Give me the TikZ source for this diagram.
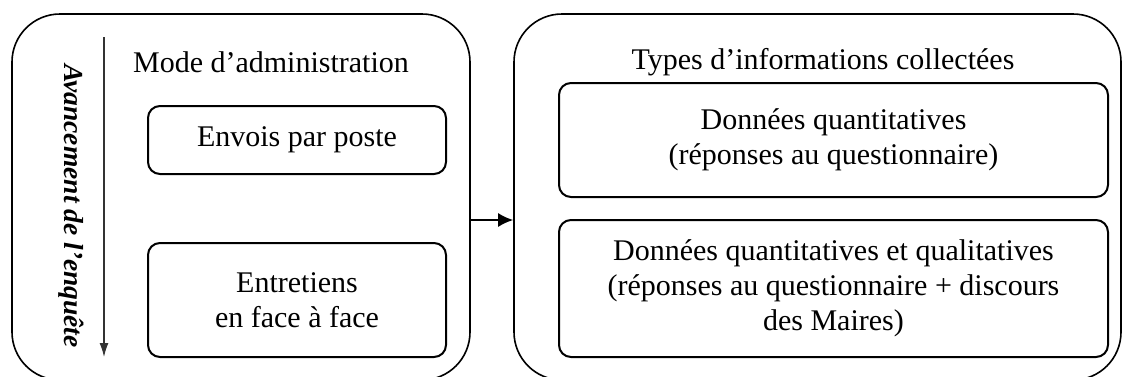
\documentclass[tikz,border=0pt]{standalone}
\usepackage{fontspec}
\setmainfont{Liberation Serif}
\usetikzlibrary{arrows.meta}

\tikzset{
  outerbox/.style={draw, line width=1.6pt, rounded corners=48pt, inner sep=0pt},
  innerbox/.style={draw, line width=2pt, rounded corners=12pt, inner sep=0pt,
    align=center, font=\fontsize{30}{35}\selectfont},
  boxtitle/.style={inner sep=0pt, font=\fontsize{30}{35}\selectfont},
  flow/.style={line width=1.8pt, -{Latex[length=15pt,width=14pt]}},
}

\begin{document}
\begin{tikzpicture}[x=1pt,y=-1pt]
        \useasboundingbox (0,0) rectangle (1123,376);
        % left part
        \node[outerbox, minimum width=458pt, minimum height=366pt] (mode) at (241,197) {};
        \node[boxtitle] (modetitle) at (271,62) {Mode d'administration};
        \node[innerbox, minimum width=298pt, minimum height=68pt] (poste) at (297,140) {Envois par poste};
        \node[innerbox, minimum width=298pt, minimum height=114pt] (face) at (297,300) {Entretiens\\en face à face};
        \coordinate (start) at (104,37);
        \coordinate (end) at (104,357);
        \draw[line width=1.4pt, black!80, -{Latex[length=14pt,width=9pt]}] (start) -- (end);
        \node[inner sep=0pt, rotate=-90, font=\fontsize{27.5}{30}\selectfont\bfseries\itshape] (avancement) at (71,206) {Avancement de l'enquête};
        % right part
        \node[outerbox, minimum width=607pt, minimum height=366pt] (types) at (817.5,197) {};
        \node[boxtitle] (typestitle) at (823,62) {Types d'informations collectées};
        \node[innerbox, minimum width=549pt, minimum height=114pt] (quanti) at (833.5,140) {Données quantitatives\\(réponses au questionnaire)};
        \node[innerbox, minimum width=549pt, minimum height=137pt] (quali) at (833.5,288.5) {Données quantitatives et qualitatives\\(réponses au questionnaire + discours\\des Maires)};
        % link
        \coordinate (mid) at (490,220);
        \draw[flow] (mode.east |- mid) -- (types.west |- mid);
\end{tikzpicture}
\end{document}
